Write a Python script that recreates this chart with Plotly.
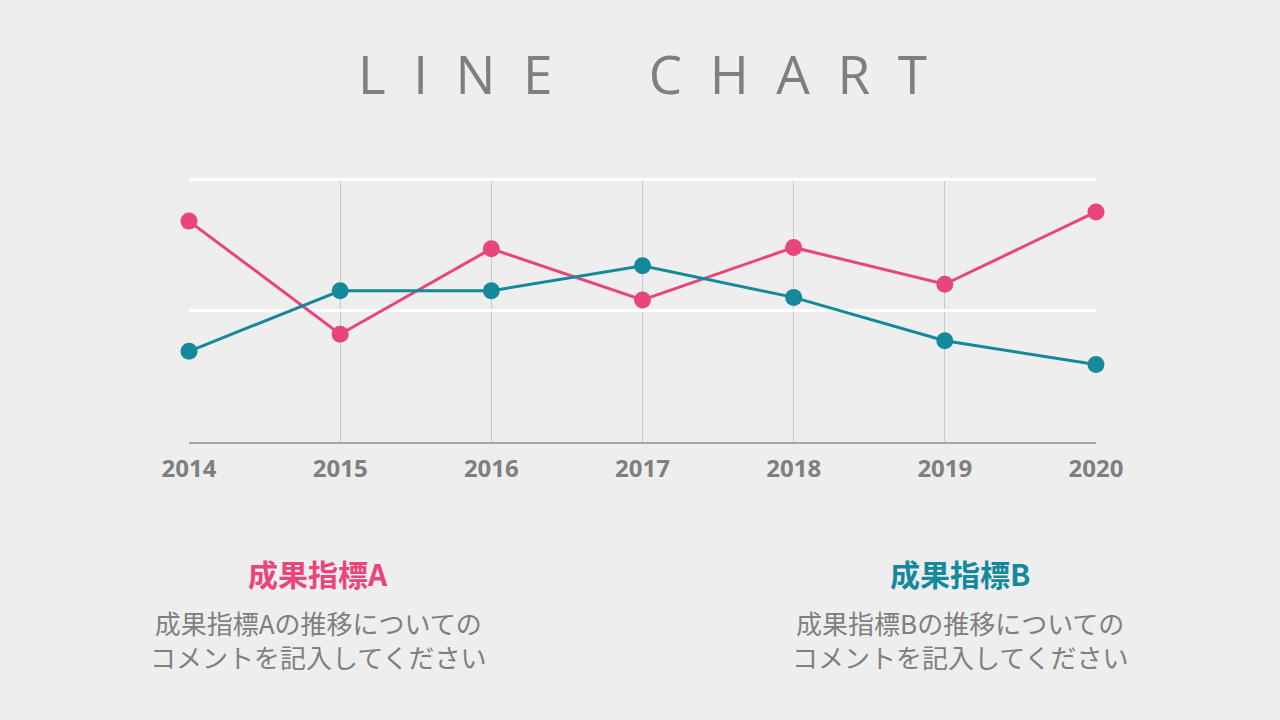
import plotly.graph_objects as go

# données
annees = [2014, 2015, 2016, 2017, 2018, 2019, 2020]
indicateur_a = [84, 41, 73.5, 54, 74, 60, 87.5]
indicateur_b = [34.5, 57.5, 57.5, 67, 55, 38.5, 29.5]

rose = '#E8467A'
bleu = '#15899C'
gris = '#7F7F7F'
police = 'Noto Sans CJK JP'

fig = go.Figure()
fig.add_trace(go.Scatter(x=annees, y=indicateur_a, mode='lines+markers', name='成果指標A',
                         line=dict(color=rose, width=3), marker=dict(size=17, color=rose),
                         cliponaxis=False))
fig.add_trace(go.Scatter(x=annees, y=indicateur_b, mode='lines+markers', name='成果指標B',
                         line=dict(color=bleu, width=3), marker=dict(size=17, color=bleu),
                         cliponaxis=False))

nb = '\u00a0'
titre = (nb * 2).join('LINE') + nb * 7 + (nb * 2).join('CHART')

fig.update_layout(
    width=1280, height=720,
    paper_bgcolor='#EEEEEE', plot_bgcolor='#EEEEEE',
    margin=dict(l=189, r=184, t=178, b=278),
    showlegend=False,
    font=dict(family=police, color=gris),
    xaxis=dict(range=[2014, 2020], tickvals=annees, showgrid=True, gridcolor='#C8C8C8', gridwidth=1,
               showline=True, linecolor='#A6A6A6', linewidth=1.5, zeroline=False,
               ticks='', ticklabelstandoff=4,
               tickfont=dict(size=24, color=gris, family='Open Sans', weight='bold')),
    yaxis=dict(range=[0, 100.4], tickvals=[50, 100], showgrid=True, gridcolor='#FFFFFF', gridwidth=3,
               showticklabels=False, zeroline=False, showline=False),
)

# titre
fig.add_annotation(text=titre, x=0.5, y=1 + (178 - 74) / 264, xref='paper', yref='paper',
                   xanchor='center', yanchor='middle',
                   showarrow=False, font=dict(size=53, color=gris, family='Open Sans'))

# commentaires
textes = [
    ('成果指標A', rose, 318, '成果指標Aの推移についての<br>コメントを記入してください'),
    ('成果指標B', bleu, 960, '成果指標Bの推移についての<br>コメントを記入してください'),
]
for nom, couleur, cx, commentaire in textes:
    px_x = (cx - 189) / 907
    fig.add_annotation(text='<b>' + nom + '</b>', x=px_x, y=-(573 - 442) / 264, xref='paper', yref='paper',
                       showarrow=False, xanchor='center', yanchor='middle',
                       font=dict(size=30, color=couleur, family=police))
    fig.add_annotation(text=commentaire, x=px_x, y=-(639 - 442) / 264, xref='paper', yref='paper',
                       showarrow=False, xanchor='center', yanchor='middle', align='center',
                       font=dict(size=26, color=gris, family=police))

fig.write_html('out.html', config={'displayModeBar': False},
               post_script="document.body.style.margin='0';")
